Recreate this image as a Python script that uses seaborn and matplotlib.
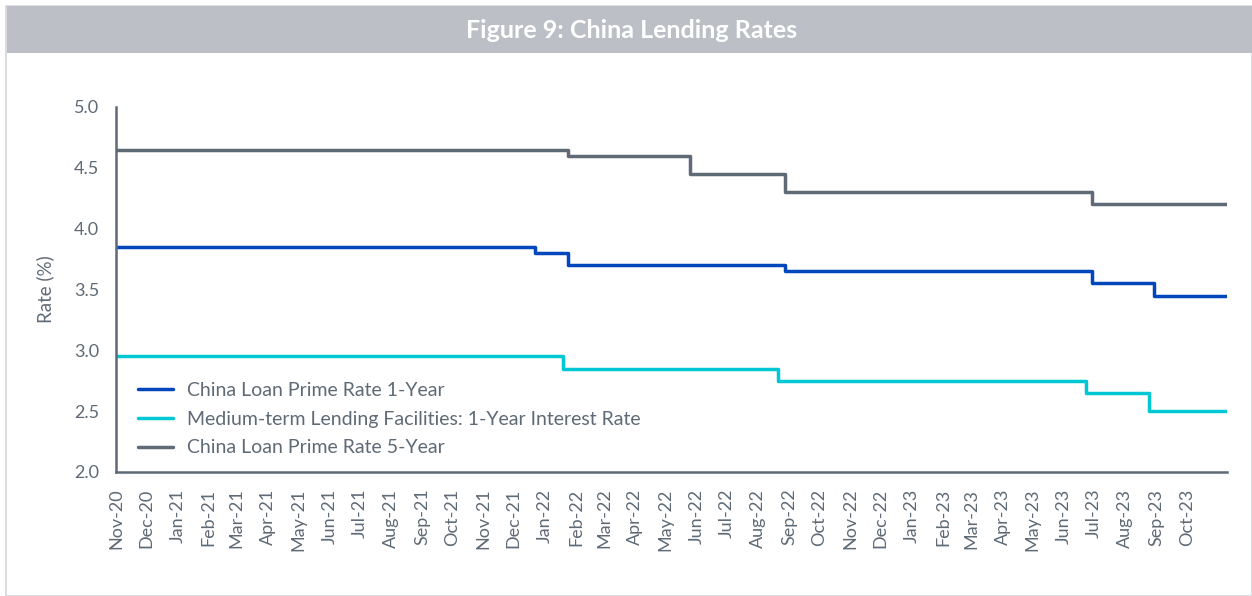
import pandas as pd
import seaborn as sns
import matplotlib.pyplot as plt
import matplotlib.dates as mdates
from matplotlib.patches import Rectangle

# rate change dates and levels; last entry = end of series
lpr1_dates = ["2020-11-01", "2021-12-22", "2022-01-24", "2022-08-28", "2023-06-29", "2023-08-29", "2023-11-10"]
lpr1_rates = [3.85, 3.80, 3.70, 3.65, 3.55, 3.45, 3.45]

mlf_dates = ["2020-11-01", "2022-01-19", "2022-08-21", "2023-06-23", "2023-08-24", "2023-11-10"]
mlf_rates = [2.95, 2.85, 2.75, 2.65, 2.50, 2.50]

lpr5_dates = ["2020-11-01", "2022-01-24", "2022-05-25", "2022-08-28", "2023-06-29", "2023-11-10"]
lpr5_rates = [4.65, 4.60, 4.45, 4.30, 4.20, 4.20]

series_names = ["China Loan Prime Rate 1-Year",
                "Medium-term Lending Facilities: 1-Year Interest Rate",
                "China Loan Prime Rate 5-Year"]
colors = ["#0047BB", "#00C7D4", "#5E6A75"]

frames = []
for name, d, r in zip(series_names, [lpr1_dates, mlf_dates, lpr5_dates], [lpr1_rates, mlf_rates, lpr5_rates]):
    frames.append(pd.DataFrame({"date": pd.to_datetime(d), "rate": r, "series": name}))
df = pd.concat(frames, ignore_index=True)

sns.set_style("white")
plt.rcParams['font.family'] = ['Lato', 'DejaVu Sans']
txt = "#5E6A75"

fig = plt.figure(figsize=(12.52, 5.96), dpi=100)
ax = fig.add_axes([116 / 1252, (596 - 472) / 596, (1227 - 116) / 1252, (472 - 107) / 596])

sns.lineplot(data=df, x="date", y="rate", hue="series", hue_order=series_names,
             palette=colors, drawstyle="steps-post", linewidth=2.5, ax=ax)

ax.set_xlim(pd.Timestamp("2020-11-01"), pd.Timestamp("2023-11-10"))
ax.set_ylim(2.0, 5.0)
ax.set_yticks([2.0, 2.5, 3.0, 3.5, 4.0, 4.5, 5.0])
ax.yaxis.set_major_formatter(plt.FormatStrFormatter("%.1f"))
month_ticks = pd.date_range("2020-11-01", "2023-10-01", freq="MS")
ax.set_xticks(month_ticks)
ax.xaxis.set_major_formatter(mdates.DateFormatter("%b-%y"))
ax.tick_params(axis="x", rotation=90, length=0, pad=12, labelsize=13, colors=txt)
ax.tick_params(axis="y", length=0, pad=12, labelsize=13, colors=txt)
ax.set_xlabel("")
ax.set_ylabel("Rate (%)", fontsize=13.5, color=txt, labelpad=14)

sns.despine(ax=ax)
for s in ["left", "bottom"]:
    ax.spines[s].set_color(txt)
    ax.spines[s].set_linewidth(1.8)

leg = ax.legend(loc="lower left", bbox_to_anchor=(0.004, -0.005), frameon=False,
                fontsize=14, handlelength=1.8, labelspacing=0.6, handletextpad=0.7)
for t in leg.get_texts():
    t.set_color(txt)

# title banner and outer border
fig.patches.append(Rectangle((6 / 1252, 0), 1246 / 1252, 590 / 596, transform=fig.transFigure,
                             facecolor="none", edgecolor="#D3D6DA", linewidth=1.2))
fig.patches.append(Rectangle((7 / 1252, (596 - 53) / 596), 1245 / 1252, 47 / 596,
                             transform=fig.transFigure, facecolor="#BCBFC5", edgecolor="none"))
fig.text(632 / 1252, (596 - 31) / 596, "Figure 9: China Lending Rates", ha="center", va="center",
         color="white", fontsize=18, fontweight="bold")

fig.savefig("out.png", dpi=100)
